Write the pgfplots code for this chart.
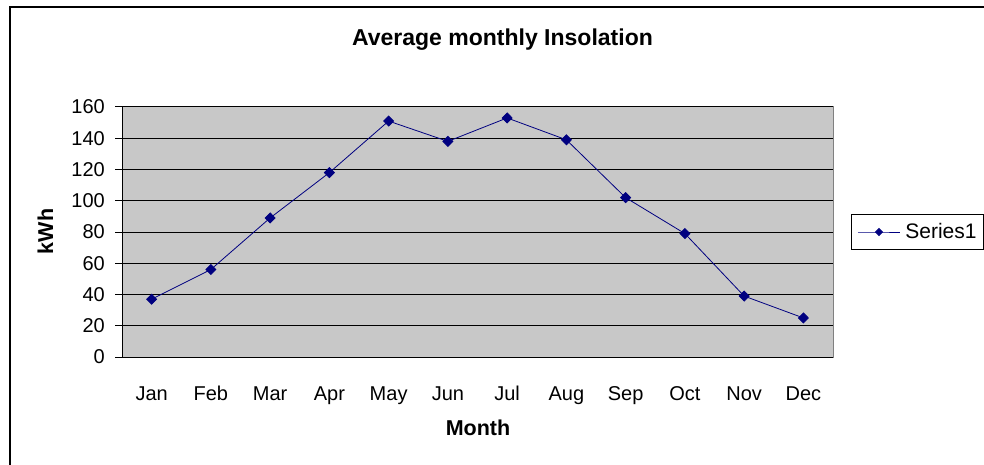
\documentclass[border=0pt]{standalone}
\usepackage{pgfplots}
\pgfplotsset{compat=1.18}
\usepackage{fontspec}
\setmainfont{Liberation Sans}
\definecolor{plotgray}{HTML}{C8C8C8}
\definecolor{framegray}{HTML}{808080}
\definecolor{navy}{HTML}{000080}
\begin{document}
\begin{tikzpicture}
\clip (0pt,0pt) rectangle (984pt,464pt);
\begin{axis}[
  at={(122pt,107pt)}, anchor=south west,
  scale only axis, width=711pt, height=250pt,
  xmin=0.5, xmax=12.5, ymin=0, ymax=160,
  xtick={1,...,12},
  xticklabels={Jan,Feb,Mar,Apr,May,Jun,Jul,Aug,Sep,Oct,Nov,Dec},
  minor xtick={0.5,1.5,...,12.5},
  ytick={0,20,...,160},
  axis lines*=left,
  axis line style={black, line width=1pt},
  axis background/.style={fill=plotgray, draw=framegray, line width=1pt},
  tick align=outside,
  major tick length=7pt, minor tick length=6pt,
  xtick style={draw=none},
  minor x tick style={black, line width=1pt},
  ytick style={black, line width=1pt},
  ymajorgrids, grid style={black, line width=1pt},
  /pgf/number format/assume math mode=true,
  ticklabel style={font=\fontsize{20}{24}\selectfont},
  yticklabel style={inner sep=0pt, xshift=-10pt},
  xticklabel style={text height=15pt, text depth=4pt, yshift=-18pt},
  legend style={at={(axis description cs:1.0253,0.5)}, anchor=west,
    draw=black, line width=1.2pt, fill=white, inner xsep=6pt, inner ysep=8.5pt,
    font=\fontsize{21}{24}\selectfont,
    nodes={inner sep=1pt},
    /tikz/every odd column/.append style={column sep=4pt}},
  legend cell align=left,
  legend image code/.code={\draw[mark repeat=2,mark phase=2,#1,mark size=3.5pt] plot coordinates {(0pt,0pt)(21pt,0pt)(42pt,0pt)};},
]
\addplot[navy, line width=0.8pt, mark=diamond*, mark size=5pt, mark options={xscale=1.33, fill=navy, draw=navy}]
  coordinates {(1,37)(2,56)(3,89)(4,118)(5,151)(6,138)(7,153)(8,139)(9,102)(10,79)(11,39)(12,25)};
\addlegendentry{Series1}
\end{axis}
\node[anchor=base, font=\fontsize{23}{27}\bfseries] at (502.5pt,418pt) {Average monthly Insolation};
\node[anchor=base, font=\fontsize{21.5}{25}\bfseries] at (478pt,29pt) {Month};
\node[anchor=base, rotate=90, font=\fontsize{21.5}{25}\bfseries] at (53pt,232.5pt) {kWh};
\draw[black, line width=2pt] (10pt,-10pt) rectangle (1000pt,457pt);
\end{tikzpicture}
\end{document}
